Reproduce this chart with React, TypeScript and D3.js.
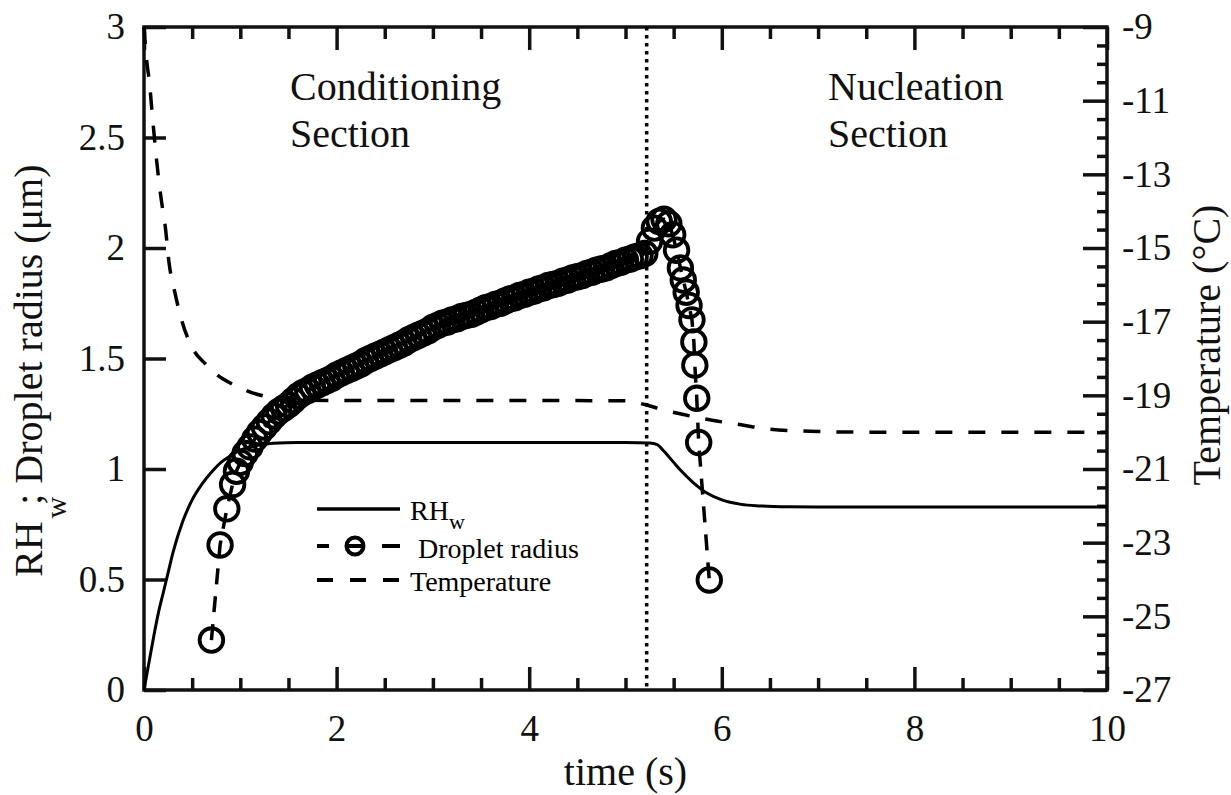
import { useEffect, useRef } from "react";
import * as d3 from "d3";

const W = 1231;
const H = 795;
const FONT = "'Liberation Serif', 'Times New Roman', serif";
const INK = "#111";

// RH_w (left axis)
const rhTime = [0, 0.05, 0.1, 0.15, 0.2, 0.25, 0.3, 0.4, 0.5, 0.6, 0.7, 0.8, 0.9, 1.0, 1.15, 1.34, 1.6, 2, 3, 4, 5, 5.25, 5.33, 5.4, 5.5, 5.57, 5.7, 5.85, 6.0, 6.2, 6.4, 6.7, 7, 8, 10];
const rhValue = [0, 0.12, 0.24, 0.35, 0.44, 0.53, 0.62, 0.76, 0.86, 0.93, 0.985, 1.03, 1.06, 1.085, 1.105, 1.117, 1.12, 1.12, 1.12, 1.12, 1.12, 1.118, 1.11, 1.08, 1.03, 0.995, 0.94, 0.89, 0.86, 0.84, 0.833, 0.829, 0.828, 0.828, 0.828];

// temperature in °C (right axis)
const tempTime = [0, 0.02, 0.06, 0.09, 0.13, 0.18, 0.22, 0.26, 0.32, 0.39, 0.51, 0.64, 0.76, 0.92, 1.07, 1.3, 1.6, 2, 3, 4, 5, 5.2, 5.4, 5.6, 5.8, 6.0, 6.2, 6.5, 7.0, 7.5, 8, 10];
const tempValue = [-9, -9.7, -10.6, -11.5, -12.6, -13.7, -14.4, -15.4, -16.2, -16.95, -17.75, -18.15, -18.45, -18.7, -18.88, -19.05, -19.13, -19.14, -19.14, -19.14, -19.15, -19.25, -19.4, -19.52, -19.63, -19.72, -19.8, -19.92, -19.98, -20, -20, -20];

// droplet radius in µm (left axis)
const dropTime = [
  0.70, 0.79, 0.86, 0.92, 0.96,
  1.00, 1.05, 1.10, 1.15, 1.20, 1.25, 1.30, 1.35, 1.40, 1.45, 1.50, 1.55, 1.60, 1.65, 1.70, 1.75, 1.80, 1.85, 1.90, 1.95,
  2.00, 2.05, 2.10, 2.15, 2.20, 2.25, 2.30, 2.35, 2.40, 2.45, 2.50, 2.55, 2.60, 2.65, 2.70, 2.75, 2.80, 2.85, 2.90, 2.95,
  3.00, 3.05, 3.10, 3.15, 3.20, 3.25, 3.30, 3.35, 3.40, 3.45, 3.50, 3.55, 3.60, 3.65, 3.70, 3.75, 3.80, 3.85, 3.90, 3.95,
  4.00, 4.05, 4.10, 4.15, 4.20, 4.25, 4.30, 4.35, 4.40, 4.45, 4.50, 4.55, 4.60, 4.65, 4.70, 4.75, 4.80, 4.85, 4.90, 4.95,
  5.00, 5.05, 5.10, 5.15, 5.20,
  5.25, 5.30, 5.35, 5.40, 5.45, 5.49, 5.53, 5.57, 5.60, 5.63, 5.66, 5.69, 5.71, 5.72, 5.74, 5.76, 5.87,
];
const dropRadius = [
  0.226, 0.656, 0.82, 0.93, 0.99,
  1.03, 1.07, 1.10, 1.135, 1.165, 1.19, 1.215, 1.24, 1.26, 1.275, 1.29, 1.31, 1.33, 1.345, 1.355, 1.37, 1.38, 1.39, 1.40, 1.41,
  1.425, 1.435, 1.445, 1.455, 1.465, 1.475, 1.49, 1.50, 1.51, 1.52, 1.53, 1.54, 1.55, 1.56, 1.57, 1.585, 1.595, 1.605, 1.615, 1.625,
  1.64, 1.65, 1.66, 1.665, 1.675, 1.68, 1.69, 1.695, 1.70, 1.71, 1.72, 1.73, 1.735, 1.745, 1.75, 1.76, 1.77, 1.775, 1.785, 1.79,
  1.80, 1.805, 1.815, 1.82, 1.83, 1.835, 1.84, 1.85, 1.855, 1.865, 1.87, 1.875, 1.885, 1.89, 1.90, 1.905, 1.91, 1.92, 1.93, 1.935,
  1.945, 1.95, 1.96, 1.965, 1.975,
  2.03, 2.09, 2.12, 2.13, 2.11, 2.06, 1.99, 1.91, 1.855, 1.80, 1.74, 1.675, 1.575, 1.47, 1.32, 1.12, 0.498,
];

// ticks
const xMajorTicks = [0, 2, 4, 6, 8, 10];
const yLeftTicks = [0, 0.5, 1, 1.5, 2, 2.5, 3];
const yRightTicks = [-27, -25, -23, -21, -19, -17, -15, -13, -11, -9];

const sectionBoundary = 5.22;

export default function App() {
  const svgRef = useRef<SVGSVGElement>(null);

  useEffect(() => {
    const svg = d3.select(svgRef.current);
    svg.selectAll("*").remove();

    const left = 144, right = 1107, top = 27, bottom = 690;

    const x = d3.scaleLinear().domain([0, 10]).range([left, right]);
    const yL = d3.scaleLinear().domain([0, 3]).range([bottom, top]);
    const yR = d3.scaleLinear().domain([-27, -9]).range([bottom, top]);

    const xMinor = d3.range(0, 10.01, 0.5).filter((v) => !xMajorTicks.includes(v));
    const yRMinor = d3.range(-27, -8.99, 0.5).filter((v) => !yRightTicks.includes(v));

    const styleAxis = (g: any, size = 37) => {
      g.select(".domain").remove();
      g.selectAll("line").attr("stroke", INK).attr("stroke-width", 3.5);
      g.selectAll("text")
        .attr("font-size", size)
        .attr("font-family", FONT)
        .attr("fill", INK);
    };

    // bottom axis
    svg.append("g")
      .attr("transform", `translate(0,${bottom})`)
      .call(d3.axisBottom(x).tickValues(xMajorTicks).tickSize(-23).tickPadding(25).tickFormat((d: any) => String(d)))
      .call(styleAxis);
    svg.append("g")
      .attr("transform", `translate(0,${bottom})`)
      .call(d3.axisBottom(x).tickValues(xMinor).tickSize(-12).tickFormat(() => ""))
      .call(styleAxis);

    // top axis (mirror ticks)
    svg.append("g")
      .attr("transform", `translate(0,${top})`)
      .call(d3.axisTop(x).tickValues(xMajorTicks).tickSize(-23).tickFormat(() => ""))
      .call(styleAxis);
    svg.append("g")
      .attr("transform", `translate(0,${top})`)
      .call(d3.axisTop(x).tickValues(xMinor).tickSize(-12).tickFormat(() => ""))
      .call(styleAxis);

    // left axis
    svg.append("g")
      .attr("transform", `translate(${left},0)`)
      .call(d3.axisLeft(yL).tickValues(yLeftTicks).tickSize(-22).tickPadding(19).tickFormat((d: any) => String(d)))
      .call(styleAxis);

    // right axis
    svg.append("g")
      .attr("transform", `translate(${right},0)`)
      .call(d3.axisRight(yR).tickValues(yRightTicks).tickSize(-24).tickPadding(15).tickFormat((d: any) => String(d)))
      .call(styleAxis);
    svg.append("g")
      .attr("transform", `translate(${right},0)`)
      .call(d3.axisRight(yR).tickValues(yRMinor).tickSize(-10).tickFormat(() => ""))
      .call(styleAxis);

    // frame
    svg.append("rect")
      .attr("x", left)
      .attr("y", top)
      .attr("width", right - left)
      .attr("height", bottom - top)
      .attr("fill", "none")
      .attr("stroke", INK)
      .attr("stroke-width", 3.5);

    // RH_w
    const rhLine = d3.line<number>()
      .x((_, i) => x(rhTime[i]))
      .y((d) => yL(d))
      .curve(d3.curveMonotoneX);
    svg.append("path")
      .attr("d", rhLine(rhValue))
      .attr("fill", "none")
      .attr("stroke", "#000")
      .attr("stroke-width", 3);

    // temperature
    const tempLine = d3.line<number>()
      .x((_, i) => x(tempTime[i]))
      .y((d) => yR(d))
      .curve(d3.curveMonotoneX);
    svg.append("path")
      .attr("d", tempLine(tempValue))
      .attr("fill", "none")
      .attr("stroke", "#000")
      .attr("stroke-width", 3.5)
      .attr("stroke-dasharray", "17,16");

    // section boundary
    svg.append("line")
      .attr("x1", x(sectionBoundary))
      .attr("x2", x(sectionBoundary))
      .attr("y1", top)
      .attr("y2", bottom)
      .attr("stroke", "#000")
      .attr("stroke-width", 3.5)
      .attr("stroke-dasharray", "3.5,4.5");

    // droplet radius
    const dropLine = d3.line<number>()
      .x((_, i) => x(dropTime[i]))
      .y((d) => yL(d));
    svg.append("path")
      .attr("d", dropLine(dropRadius))
      .attr("fill", "none")
      .attr("stroke", "#000")
      .attr("stroke-width", 3.5)
      .attr("stroke-dasharray", "16,12");

    svg.append("g")
      .selectAll("circle")
      .data(dropRadius)
      .enter()
      .append("circle")
      .attr("cx", (_, i) => x(dropTime[i]))
      .attr("cy", (d) => yL(d))
      .attr("r", 11.8)
      .attr("fill", "none")
      .attr("stroke", "#000")
      .attr("stroke-width", 3.8);

    // legend
    const lg = svg.append("g");
    lg.append("line")
      .attr("x1", 317).attr("x2", 400).attr("y1", 509).attr("y2", 509)
      .attr("stroke", "#000").attr("stroke-width", 3.5);
    lg.append("line")
      .attr("x1", 317).attr("x2", 400).attr("y1", 546).attr("y2", 546)
      .attr("stroke", "#000").attr("stroke-width", 4)
      .attr("stroke-dasharray", "12,16,20,17,18");
    lg.append("circle")
      .attr("cx", 355).attr("cy", 546).attr("r", 8.5)
      .attr("fill", "none").attr("stroke", "#000").attr("stroke-width", 4);
    lg.append("line")
      .attr("x1", 317).attr("x2", 400).attr("y1", 580).attr("y2", 580)
      .attr("stroke", "#000").attr("stroke-width", 4)
      .attr("stroke-dasharray", "16,17");

    const rhLabel = lg.append("text")
      .attr("x", 410).attr("y", 520)
      .attr("font-family", FONT).attr("font-size", 28).attr("fill", "#000");
    rhLabel.append("tspan").text("RH");
    rhLabel.append("tspan").attr("dy", 9).attr("font-size", 22).text("w");
    lg.append("text")
      .attr("x", 418).attr("y", 558)
      .attr("font-family", FONT).attr("font-size", 28).attr("fill", "#000")
      .text("Droplet radius");
    lg.append("text")
      .attr("x", 410).attr("y", 591)
      .attr("font-family", FONT).attr("font-size", 28).attr("fill", "#000")
      .text("Temperature");

    // section annotations
    const notes: [string, number, number][] = [
      ["Conditioning", 290, 100],
      ["Section", 290, 147],
      ["Nucleation", 828, 100],
      ["Section", 828, 147],
    ];
    svg.append("g")
      .selectAll("text")
      .data(notes)
      .enter()
      .append("text")
      .attr("x", (d) => d[1])
      .attr("y", (d) => d[2])
      .attr("font-family", FONT)
      .attr("font-size", 40)
      .attr("fill", INK)
      .text((d) => d[0]);

    // axis titles
    svg.append("text")
      .attr("x", (left + right) / 2)
      .attr("y", 785)
      .attr("text-anchor", "middle")
      .attr("font-family", FONT)
      .attr("font-size", 40)
      .attr("fill", INK)
      .text("time (s)");

    const yTitle = svg.append("text")
      .attr("transform", "translate(42,577) rotate(-90)")
      .attr("font-family", FONT)
      .attr("font-size", 40)
      .attr("fill", INK);
    yTitle.append("tspan").text("RH");
    yTitle.append("tspan").attr("dx", 3).attr("dy", 24).attr("font-size", 30).text("w");
    yTitle.append("tspan").attr("dx", -8).attr("dy", -24).text(";");
    yTitle.append("tspan").text(" Droplet radius (μm)");

    svg.append("text")
      .attr("transform", "translate(1220,345) rotate(-90)")
      .attr("text-anchor", "middle")
      .attr("font-family", FONT)
      .attr("font-size", 40)
      .attr("fill", INK)
      .text("Temperature (°C)");
  }, []);

  return (
    <svg
      ref={svgRef}
      width={W}
      height={H}
      style={{ position: "absolute", left: 0, top: 0, background: "#fff" }}
    />
  );
}
